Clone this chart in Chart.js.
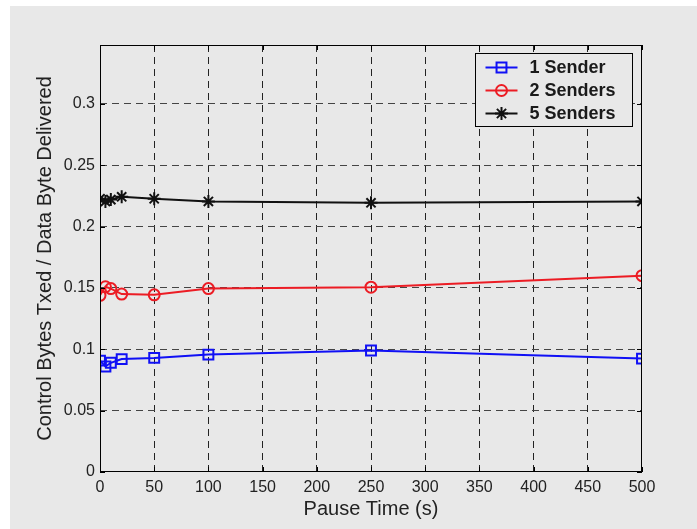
<!DOCTYPE html>
<html>
<head>
<meta charset="utf-8">
<script src="https://cdn.jsdelivr.net/npm/chart.js@4"></script>
<style>
  html, body { margin: 0; padding: 0; background: #ffffff; }
  #wrap { position: absolute; left: 10px; top: 6px; width: 687px; height: 523px; background: #e8e8e8; }
</style>
</head>
<body>
<div id="wrap"><canvas id="chart" width="687" height="523"></canvas></div>
<script>
var pauseTimes = [0, 5, 10, 20, 50, 100, 250, 500]
var oneSender = [0.0908, 0.086, 0.089, 0.092, 0.093, 0.0957, 0.099, 0.0924]
var twoSenders = [0.144, 0.151, 0.1495, 0.145, 0.1444, 0.1495, 0.1506, 0.160]
var fiveSenders = [0.2227, 0.2205, 0.222, 0.2243, 0.2227, 0.2205, 0.2194, 0.2205]
var xTicks = [0, 50, 100, 150, 200, 250, 300, 350, 400, 450, 500]
var yTicks = [0, 0.05, 0.1, 0.15, 0.2, 0.25, 0.3]

var fontFamily = "'Liberation Sans', Arial, Helvetica, sans-serif"

function toPoints(ys) {
  return pauseTimes.map(function(x, i) { return { x: x, y: ys[i] } })
}

// box round the plot, inward ticks, and a matlab-style legend
var matlabBox = {
  id: "matlabBox",
  afterDatasetsDraw: function(chart) {
    var ctx = chart.ctx
    var a = chart.chartArea
    var xs = chart.scales.x
    var ys = chart.scales.y
    ctx.save()
    ctx.strokeStyle = "#000"
    ctx.lineWidth = 1
    ctx.strokeRect(a.left + 0.5, a.top + 0.5, a.right - a.left - 1, a.bottom - a.top - 1)
    ctx.beginPath()
    xs.ticks.forEach(function(t) {
      var px = Math.round(xs.getPixelForValue(t.value)) + 0.5
      ctx.moveTo(px, a.top); ctx.lineTo(px, a.top + 5)
      ctx.moveTo(px, a.bottom); ctx.lineTo(px, a.bottom - 5)
    })
    ys.ticks.forEach(function(t) {
      var py = Math.round(ys.getPixelForValue(t.value)) + 0.5
      ctx.moveTo(a.left, py); ctx.lineTo(a.left + 5, py)
      ctx.moveTo(a.right, py); ctx.lineTo(a.right - 5, py)
    })
    ctx.stroke()

    // legend
    var bx = 465.5, by = 47.5, bw = 157, bh = 73
    ctx.fillStyle = "#e8e8e8"
    ctx.fillRect(bx, by, bw, bh)
    ctx.strokeStyle = "#000"
    ctx.strokeRect(bx, by, bw, bh)
    ctx.font = "bold 18px " + fontFamily
    ctx.textBaseline = "middle"
    chart.data.datasets.forEach(function(ds, i) {
      var cy = by + 14 + i * 23
      ctx.strokeStyle = ds.borderColor
      ctx.lineWidth = 2
      ctx.beginPath()
      ctx.moveTo(bx + 10, cy); ctx.lineTo(bx + 42, cy)
      ctx.stroke()
      ctx.fillStyle = "rgba(0,0,0,0)"
      Chart.helpers.drawPoint(ctx, {
        pointStyle: ds.pointStyle, radius: ds.pointRadius, borderWidth: 2
      }, bx + 26, cy)
      ctx.fillStyle = "#1a1a1a"
      ctx.fillText(ds.label, bx + 54, cy + 1)
    })
    ctx.restore()
  }
}

new Chart(document.getElementById("chart"), {
  type: "line",
  data: {
    datasets: [{
      label: "1 Sender",
      data: toPoints(oneSender),
      borderColor: "#1010f5",
      backgroundColor: "rgba(0,0,0,0)",
      pointStyle: "rect",
      pointRadius: 7,
      pointBorderWidth: 2,
      borderWidth: 2
    }, {
      label: "2 Senders",
      data: toPoints(twoSenders),
      borderColor: "#ec1c24",
      backgroundColor: "rgba(0,0,0,0)",
      pointStyle: "circle",
      pointRadius: 5.5,
      pointBorderWidth: 2,
      borderWidth: 2
    }, {
      label: "5 Senders",
      data: toPoints(fiveSenders),
      borderColor: "#111111",
      backgroundColor: "rgba(0,0,0,0)",
      pointStyle: "star",
      pointRadius: 6.5,
      pointBorderWidth: 2,
      borderWidth: 2
    }]
  },
  options: {
    responsive: false,
    animation: false,
    layout: { padding: { left: 0, top: 39, right: 55, bottom: 0 } },
    plugins: {
      legend: { display: false },
      tooltip: { enabled: false }
    },
    scales: {
      x: {
        type: "linear",
        min: 0,
        max: 500,
        afterFit: function(s) { s.height = 57 },
        afterBuildTicks: function(s) { s.ticks = xTicks.map(function(v) { return { value: v } }) },
        border: { display: false, dash: [7, 5] },
        grid: {
          drawTicks: false,
          color: function(c) { return (c.tick.value === 0 || c.tick.value === 500) ? "rgba(0,0,0,0)" : "#222" }
        },
        ticks: {
          padding: 6,
          color: "#222",
          font: { family: fontFamily, size: 16 },
          maxRotation: 0
        },
        title: {
          display: true,
          text: "Pause Time (s)",
          color: "#222",
          font: { family: fontFamily, size: 20 },
          padding: { top: 0, bottom: 8 }
        }
      },
      y: {
        type: "linear",
        min: 0,
        max: 0.348,
        afterFit: function(s) { s.width = 90 },
        afterBuildTicks: function(s) { s.ticks = yTicks.map(function(v) { return { value: v } }) },
        border: { display: false, dash: [7, 5] },
        grid: {
          drawTicks: false,
          color: function(c) { return c.tick.value === 0 ? "rgba(0,0,0,0)" : "#444" }
        },
        ticks: {
          padding: 5,
          color: "#222",
          font: { family: fontFamily, size: 16 },
          callback: function(v) { return String(+v.toFixed(2)) }
        },
        title: {
          display: true,
          text: "Control Bytes Txed / Data Byte Delivered",
          color: "#222",
          font: { family: fontFamily, size: 20 },
          padding: { top: 23, bottom: 0 }
        }
      }
    }
  },
  plugins: [matlabBox]
})
</script>
</body>
</html>
